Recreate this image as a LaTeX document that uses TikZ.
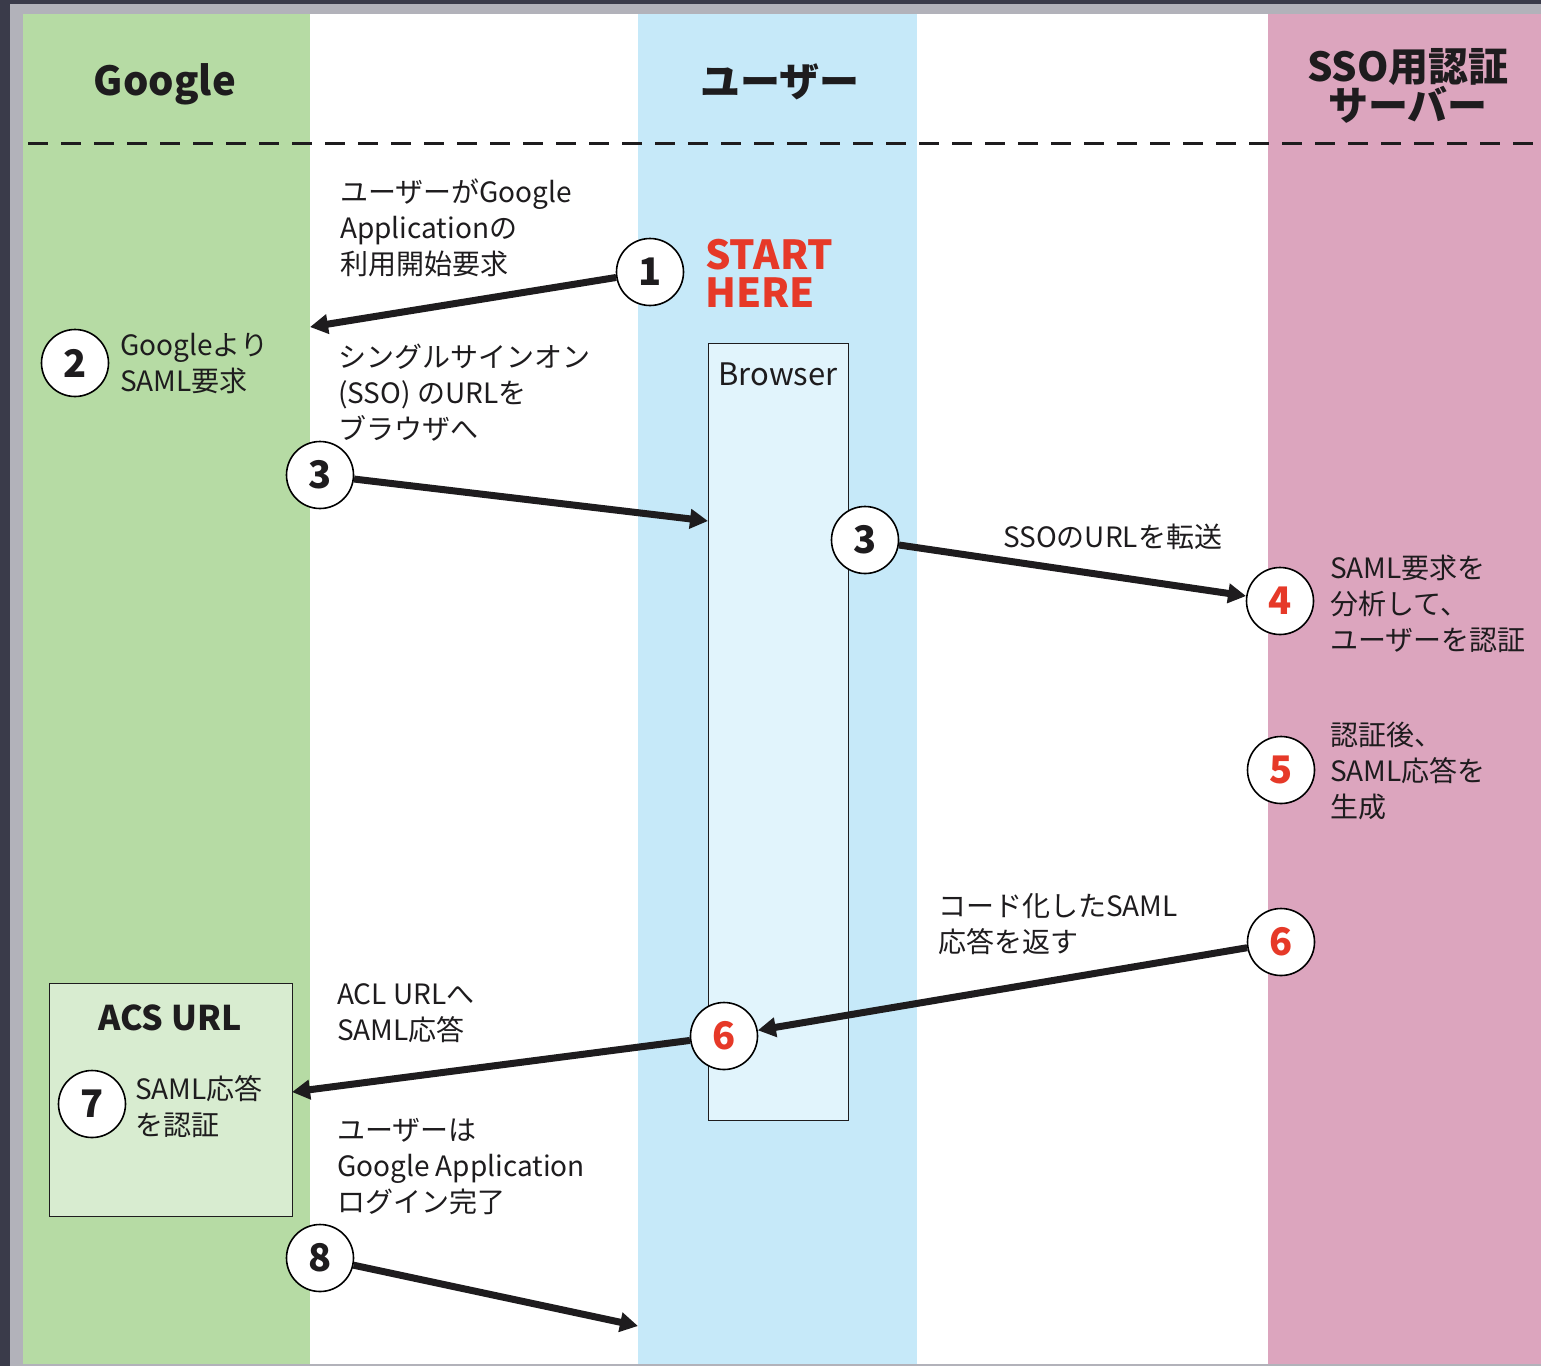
\documentclass[tikz,border=0pt]{standalone}
\usepackage{fontspec}
\setmainfont{Noto Sans CJK JP}
\usetikzlibrary{arrows.meta}
\definecolor{bgdark}{RGB}{58,59,74}
\definecolor{framegray}{RGB}{178,178,186}
\definecolor{colgreen}{RGB}{182,219,164}
\definecolor{colblue}{RGB}{198,233,249}
\definecolor{colpink}{RGB}{220,165,190}
\definecolor{brfill}{RGB}{225,244,252}
\definecolor{acsfill}{RGB}{216,236,208}
\definecolor{redc}{RGB}{230,57,40}
\definecolor{ink}{RGB}{30,28,30}
\begin{document}
\begin{tikzpicture}[x=1pt,y=-1pt,
  lbl/.style={anchor=west,inner sep=0pt,align=left,text=ink,font=\fontsize{28}{36}\selectfont},
  circ/.style={circle,draw=black,line width=1.6pt,fill=white,minimum size=67pt,inner sep=0pt,text=ink,font=\fontsize{38}{38}\selectfont\bfseries},
  redn/.style={circ,text=redc},
  arr/.style={line width=7pt,draw=ink,-{Triangle[length=18pt,width=19pt]}},
  hdr/.style={inner sep=0pt,align=center,text=ink,font=\fontsize{40}{39}\selectfont\bfseries},
  boxst/.style={draw=ink,line width=1.2pt,inner sep=0pt,anchor=north west}
]
\useasboundingbox (0,0) rectangle (1541,1366);
% frame
\fill[bgdark] (0,0) rectangle (1541,1366);
\fill[framegray] (10,4) rectangle (1541,1366);
\fill[white] (23,14) rectangle (1541,1364);
% columns
\fill[colgreen] (23,14) rectangle (310,1364);
\fill[colblue] (638,14) rectangle (917,1364);
\fill[colpink] (1268,14) rectangle (1541,1364);
% dashed separator
\coordinate (dl) at (28,143);
\coordinate (dr) at (1541,143);
\draw[ink,line width=3pt,dash pattern=on 20pt off 13pt] (dl) -- (dr);
% headers
\node[hdr] (hgoogle) at (165,84) {Google};
\node[hdr] (huser) at (780,82) {ユーザー};
\node[hdr] (hsso) at (1408,86) {SSO用認証\\サーバー};
% boxes
\node[boxst,fill=brfill,minimum width=140pt,minimum height=777pt] (browser) at (708,343) {};
\node[inner sep=0pt,text=ink,font=\fontsize{31}{31}\selectfont] (brtext) at (778,374) {Browser};
\node[boxst,fill=acsfill,minimum width=243pt,minimum height=233pt] (acs) at (49,983) {};
\node[inner sep=0pt,text=ink,font=\fontsize{34}{34}\selectfont\bfseries] (acstext) at (170,1018) {ACS URL};
% circles
\node[circ] (n1) at (650,272) {1};
\node[circ] (n2) at (75,363) {2};
\node[circ] (n3a) at (320,475) {3};
\node[circ] (n3b) at (865,540) {3};
\node[redn] (n4) at (1280,601) {4};
\node[redn] (n5) at (1281,770) {5};
\node[redn] (n6a) at (1281,942) {6};
\node[redn] (n6b) at (724,1036) {6};
\node[circ] (n7) at (92,1104) {7};
\node[circ] (n8) at (320,1258) {8};
% arrow end points
\coordinate (e1) at (310,327);
\coordinate (e3) at (708,521);
\coordinate (e6) at (292,1092);
\coordinate (e8) at (638,1326);
% arrows
\draw[arr] (n1) -- (e1);
\draw[arr] (n3a) -- (e3);
\draw[arr] (n3b) -- (n4);
\draw[arr] (n6a) -- (n6b);
\draw[arr] (n6b) -- (e6);
\draw[arr] (n8) -- (e8);
% start here
\node[anchor=west,inner sep=0pt,align=left,text=redc,font=\fontsize{40}{38}\selectfont\bfseries] (start) at (705,273) {START\\HERE};
% labels
\node[lbl] (t1) at (340,228) {ユーザーがGoogle\\Applicationの\\利用開始要求};
\node[lbl] (t2) at (120,363) {Googleより\\SAML要求};
\node[lbl] (t3) at (338,393) {シングルサインオン\\(SSO) のURLを\\ブラウザへ};
\node[lbl] (t4) at (1003,537) {SSOのURLを転送};
\node[lbl] (t5) at (1330,604) {SAML要求を\\分析して、\\ユーザーを認証};
\node[lbl] (t6) at (1330,771) {認証後、\\SAML応答を\\生成};
\node[lbl] (t7) at (938,924) {コード化したSAML\\応答を返す};
\node[lbl] (t8) at (337,1013) {ACL URLへ\\SAML応答};
\node[lbl] (t9) at (135,1107) {SAML応答\\を認証};
\node[lbl] (t10) at (337,1167) {ユーザーは\\Google Application\\ログイン完了};
\end{tikzpicture}
\end{document}
